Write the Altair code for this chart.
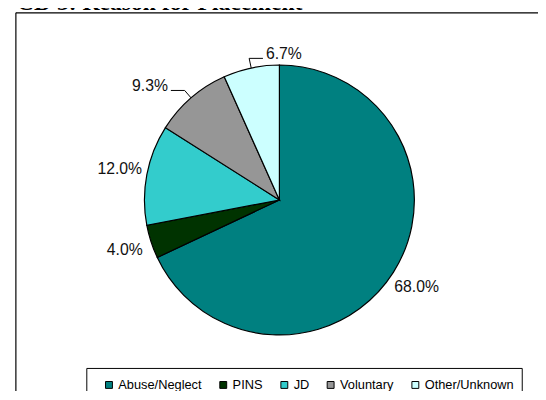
import altair as alt
import pandas as pd

# ---- data ----
categories = ["Abuse/Neglect", "PINS", "JD", "Voluntary", "Other/Unknown"]
percents = [68.0, 4.0, 12.0, 9.3, 6.7]
colors = ["#008080", "#003300", "#33CCCC", "#969696", "#CCFFFF"]
title_text = "CD 3: Reason for Placement"
leader_slices = ["Voluntary", "Other/Unknown"]

df = pd.DataFrame({"category": categories, "value": percents,
                   "order": list(range(len(categories)))})
one = pd.DataFrame({"k": [0]})

# ---- layout (pixels, view coordinates) ----
W, H = 530, 381
CX, CY = 267.5, 190
R = 137          # pie radius
LR = 165         # radius of plain labels
ELB = R + 10     # leader elbow radius
HSEG = 14        # horizontal leader segment
GAP = 3

base = alt.Chart(df)

pie = base.mark_arc(radius=R, stroke="black", strokeWidth=1.2).encode(
    theta=alt.Theta("value:Q", stack=True),
    color=alt.Color(
        "category:N",
        scale=alt.Scale(domain=categories, range=colors),
        sort=None,
        legend=alt.Legend(
            title=None, orient="none", legendX=88, legendY=371,
            direction="horizontal", columnPadding=15, labelOffset=3,
            padding=0, symbolType="square", symbolSize=49,
            symbolStrokeColor="black", symbolStrokeWidth=1,
            symbolOpacity=1, labelFont="Liberation Sans",
            labelFontSize=13, labelColor="black",
        ),
    ),
    order=alt.Order("order:Q"),
    x=alt.value(CX),
    y=alt.value(CY),
)

# label geometry derived from the data (mid angle of each slice)
geo = base.transform_window(
    cum="sum(value)", sort=[alt.SortField("order")]
).transform_joinaggregate(
    total="sum(value)"
).transform_calculate(
    a="2*PI*(datum.cum - datum.value/2)/datum.total",
    label="format(datum.value, '.1f') + '%'",
).transform_calculate(
    side="sin(datum.a) < -0.5 ? -1 : 1",
    px=f"{CX} + {R}*sin(datum.a)",
    py=f"{CY} - {R}*cos(datum.a)",
    ex=f"{CX} + {ELB}*sin(datum.a)",
    ey=f"{CY} - {ELB}*cos(datum.a)",
    tx=f"{CX} + {LR}*sin(datum.a)",
    ty=f"{CY} - {LR}*cos(datum.a)",
).transform_calculate(
    hx=f"datum.ex + datum.side*{HSEG}",
    lx=f"datum.ex + datum.side*{HSEG + GAP}",
)

lead = geo.transform_filter(alt.FieldOneOfPredicate(field="category", oneOf=leader_slices))
plain = geo.transform_filter(
    {"not": alt.FieldOneOfPredicate(field="category", oneOf=leader_slices)})

text_style = dict(font="Liberation Sans", fontSize=16, color="#111111", baseline="middle")

plain_labels = plain.mark_text(align="center", **text_style).encode(
    x=alt.X("tx:Q", scale=None), y=alt.Y("ty:Q", scale=None), text="label:N")

left_labels = lead.transform_filter("datum.side < 0").mark_text(
    align="right", dy=-4, **text_style).encode(
    x=alt.X("lx:Q", scale=None), y=alt.Y("ey:Q", scale=None), text="label:N")

right_labels = lead.transform_filter("datum.side > 0").mark_text(
    align="left", dy=-4, **text_style).encode(
    x=alt.X("lx:Q", scale=None), y=alt.Y("ey:Q", scale=None), text="label:N")

leader_a = lead.mark_rule(color="black", strokeWidth=1).encode(
    x=alt.X("px:Q", scale=None), y=alt.Y("py:Q", scale=None),
    x2="ex:Q", y2="ey:Q")
leader_b = lead.mark_rule(color="black", strokeWidth=1).encode(
    x=alt.X("ex:Q", scale=None), y=alt.Y("ey:Q", scale=None),
    x2="hx:Q", y2="ey:Q")

frame_top = alt.Chart(one).mark_rule(color="black", strokeWidth=1.2).encode(
    x=alt.value(0), x2=alt.value(W), y=alt.value(0))
frame_left = alt.Chart(one).mark_rule(color="black", strokeWidth=1.2).encode(
    x=alt.value(0), y=alt.value(0), y2=alt.value(H + 20))
legend_box = alt.Chart(one).mark_rect(filled=False, stroke="black", strokeWidth=1).encode(
    x=alt.value(72), x2=alt.value(514), y=alt.value(361), y2=alt.value(H + 20))

title = alt.Chart(one).mark_text(
    font="Liberation Serif", fontWeight="bold", fontSize=24,
    align="left", baseline="alphabetic", color="black",
).encode(x=alt.value(1), y=alt.value(-3), text=alt.value(title_text))

chart = alt.layer(
    frame_top, frame_left, legend_box, pie,
    leader_a, leader_b, plain_labels, left_labels, right_labels, title
).properties(
    width=W, height=H,
    autosize=alt.AutoSizeParams(type="none"),
    padding={"left": 8, "top": 2, "right": 0, "bottom": 0},
).configure_view(strokeWidth=0)

chart.save("out.html", embed_options={"renderer": "svg", "actions": False})
